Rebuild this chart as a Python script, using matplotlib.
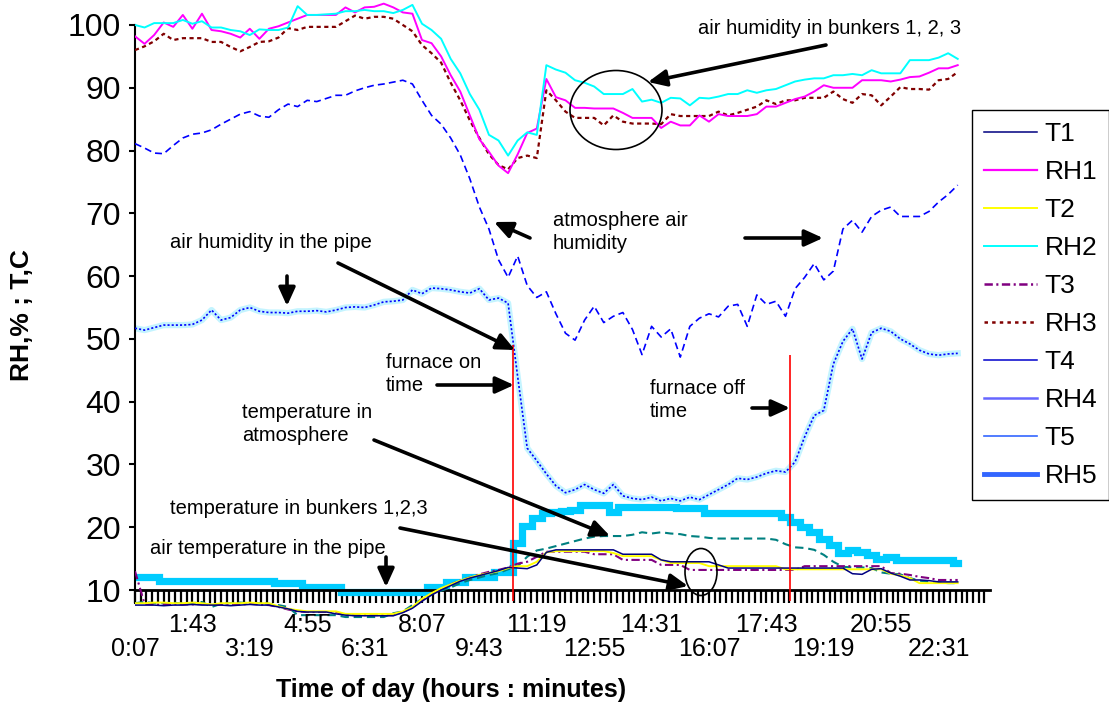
import numpy as np
import matplotlib
matplotlib.use("Agg")
import matplotlib.pyplot as plt
from matplotlib.lines import Line2D
from matplotlib.patches import Ellipse
from matplotlib import font_manager

plt.rcParams["lines.scale_dashes"] = False
installed = {f.name for f in font_manager.fontManager.ttflist}
BASE = "Liberation Sans" if "Liberation Sans" in installed else "DejaVu Sans"
NARROW = "Liberation Sans Narrow" if "Liberation Sans Narrow" in installed else BASE
plt.rcParams["font.family"] = [BASE, "DejaVu Sans"]

# ---------------- data (sample every 16 minutes starting 0:07) ----------------
minutes = 7 + 16 * np.arange(87)

rh1 = [98.2, 97.0, 98.4, 100.4, 99.7, 101.6, 99.4, 101.8, 99.2, 99.0,
       98.6, 98.0, 99.4, 97.8, 99.4, 99.8, 100.4, 101.0, 101.6, 101.6,
       101.6, 101.6, 102.8, 102.0, 102.8, 102.9, 103.4, 102.8, 102.0, 101.8,
       97.6, 97.1, 95.0, 92.0, 89.4, 85.6, 81.8, 79.8, 77.6, 76.4,
       79.4, 82.8, 83.5, 91.4, 88.5, 88.0, 86.8, 86.8, 86.7, 86.7,
       86.7, 86.0, 85.2, 85.2, 85.2, 83.6, 84.6, 84.0, 84.0, 85.6,
       84.6, 85.8, 85.5, 85.5, 85.5, 85.8, 87.0, 87.0, 87.6, 88.2,
       88.6, 89.4, 90.4, 90.0, 90.0, 90.0, 91.2, 91.2, 91.2, 91.0,
       91.3, 91.7, 91.8, 92.4, 93.1, 93.1, 93.6]
rh2 = [100.0, 99.6, 100.3, 100.3, 100.3, 100.8, 100.2, 100.6, 99.6, 99.6,
       99.2, 99.0, 98.4, 99.3, 99.2, 99.2, 99.6, 103.0, 101.6, 101.6,
       101.7, 101.8, 102.2, 102.2, 102.4, 102.2, 102.2, 101.9, 102.4, 103.2,
       100.2, 99.2, 97.8, 94.6, 92.3, 89.0, 86.5, 82.5, 81.6, 79.2,
       81.6, 82.9, 82.5, 93.6, 92.9, 92.4, 91.2, 90.8, 90.2, 89.0,
       89.0, 89.0, 89.8, 87.8, 88.1, 87.6, 88.4, 88.3, 87.2, 88.4,
       88.3, 88.6, 89.0, 89.0, 89.6, 89.2, 89.6, 89.8, 90.4, 91.0,
       91.3, 91.5, 91.5, 92.0, 92.0, 92.2, 92.0, 92.8, 92.3, 92.3,
       92.3, 94.4, 94.4, 94.4, 94.8, 95.5, 94.6]
rh3 = [96.0, 96.6, 97.4, 98.6, 97.6, 97.9, 97.9, 97.9, 97.3, 97.3,
       96.5, 95.8, 96.5, 97.3, 97.4, 98.0, 99.5, 99.2, 99.7, 99.7,
       99.7, 99.7, 100.6, 101.5, 101.0, 101.3, 101.3, 101.0, 100.0, 99.0,
       96.8, 95.5, 94.0, 90.8, 88.0, 84.8, 82.0, 79.4, 77.7, 77.0,
       78.8, 79.2, 78.8, 89.6, 88.0, 86.2, 85.2, 85.2, 85.2, 84.0,
       85.6, 84.6, 84.3, 84.3, 84.3, 84.2, 85.8, 85.5, 85.5, 85.5,
       85.5, 86.2, 85.6, 86.0, 86.5, 87.0, 88.0, 87.4, 88.0, 88.0,
       88.4, 88.4, 88.4, 89.4, 88.2, 87.6, 89.0, 88.8, 87.2, 88.6,
       90.1, 89.8, 89.8, 89.7, 91.2, 91.4, 92.5]
rh_atmosphere = [81.1, 80.4, 79.6, 79.5, 80.8, 82.0, 82.6, 82.8, 83.3, 84.2,
                 85.0, 85.8, 86.2, 85.5, 85.3, 86.5, 87.4, 87.0, 88.0, 87.8,
                 88.3, 88.8, 88.8, 89.5, 90.0, 90.4, 90.6, 90.9, 91.2, 90.6,
                 88.0, 85.6, 84.2, 82.0, 79.3, 75.5, 71.0, 67.5, 62.6, 59.8,
                 63.2, 58.5, 56.6, 57.5, 54.0, 50.9, 49.8, 53.0, 55.2, 52.6,
                 53.6, 54.2, 51.5, 47.5, 52.0, 50.3, 51.6, 47.1, 52.0, 53.3,
                 54.0, 53.5, 55.2, 55.5, 52.0, 57.0, 55.5, 56.0, 53.6, 58.0,
                 59.8, 62.0, 59.4, 60.8, 67.5, 68.9, 67.0, 69.5, 70.5, 71.0,
                 69.5, 69.5, 69.5, 70.3, 71.8, 73.0, 74.5]
rh_pipe = [51.7, 51.4, 51.8, 52.2, 52.2, 52.2, 52.3, 53.0, 54.6, 53.0,
           53.4, 54.6, 55.0, 54.4, 54.2, 54.2, 54.1, 54.4, 54.4, 54.5,
           54.3, 54.6, 55.0, 55.1, 55.0, 55.4, 55.9, 56.0, 56.2, 57.8,
           57.2, 58.1, 58.0, 57.8, 57.5, 57.3, 58.0, 56.2, 56.5, 55.7,
           44.0, 32.6, 30.6, 28.5, 26.6, 25.5, 26.0, 26.8, 26.0, 25.4,
           26.8, 25.0, 24.6, 24.4, 24.8, 24.2, 24.6, 24.2, 24.8, 24.4,
           25.2, 26.0, 26.8, 27.8, 27.6, 28.0, 28.6, 29.0, 28.8, 30.4,
           34.4, 37.8, 38.6, 46.0, 49.6, 51.6, 46.8, 51.0, 51.7, 51.2,
           50.0, 49.2, 48.2, 47.6, 47.4, 47.6, 47.7]
t_pipe = [12.1, 12.1, 12.1, 11.5, 11.5, 11.5, 11.5, 11.5, 11.5, 11.5,
          11.5, 11.5, 11.5, 11.5, 11.5, 11.1, 11.1, 11.1, 10.5, 10.5,
          10.5, 10.5, 9.7, 9.7, 9.7, 9.7, 9.7, 9.7, 9.7, 9.7,
          9.7, 10.5, 10.5, 11.3, 11.3, 12.0, 12.1, 12.1, 12.9, 12.9,
          17.5, 20.2, 21.4, 22.3, 22.4, 22.6, 22.7, 23.5, 23.5, 23.5,
          22.4, 23.2, 23.2, 23.2, 23.2, 23.2, 23.2, 23.0, 23.0, 23.0,
          22.2, 22.2, 22.2, 22.2, 22.2, 22.2, 22.2, 22.2, 21.6, 20.9,
          20.0, 19.2, 18.2, 17.2, 15.9, 16.4, 16.0, 15.6, 15.0, 15.3,
          14.8, 14.8, 14.8, 14.8, 14.8, 14.8, 14.3]
t_atmosphere = [7.9, 8.1, 7.9, 7.9, 8.0, 7.8, 7.9, 8.1, 7.3, 7.8,
                7.9, 8.0, 7.9, 7.9, 7.8, 7.6, 7.3, 6.0, 6.0, 6.0,
                6.0, 6.0, 5.7, 5.7, 5.7, 5.7, 5.7, 6.3, 6.6, 7.6,
                8.6, 9.4, 9.9, 10.4, 11.1, 11.6, 12.0, 12.4, 12.7, 13.3,
                13.8, 15.3, 16.3, 16.6, 17.0, 17.4, 17.8, 18.2, 18.5, 18.6,
                18.6, 18.6, 18.8, 19.2, 19.0, 19.2, 19.0, 18.9, 18.6, 18.5,
                18.3, 18.2, 18.2, 18.2, 18.2, 18.2, 18.2, 18.0, 17.3, 16.8,
                16.7, 16.4, 15.6, 14.5, 13.7, 13.6, 13.6, 13.5, 12.8, 12.6,
                12.5, 11.9, 11.5, 11.3, 11.2, 11.1, 11.1]
t1 = [7.6, 7.6, 7.6, 7.5, 7.6, 7.6, 7.7, 7.6, 7.6, 7.6,
      7.5, 7.6, 7.7, 7.6, 7.6, 7.3, 7.0, 6.6, 6.5, 6.5,
      6.5, 6.2, 6.0, 5.9, 5.9, 5.9, 5.9, 5.9, 6.4, 7.1,
      8.2, 9.2, 10.0, 10.7, 11.4, 11.9, 12.3, 12.7, 13.1, 13.6,
      13.5, 13.4, 14.0, 16.0, 16.4, 16.4, 16.4, 16.4, 16.4, 16.4,
      16.4, 15.7, 15.7, 15.7, 15.7, 14.8, 14.5, 14.5, 14.5, 14.5,
      14.5, 14.0, 13.5, 13.5, 13.5, 13.5, 13.5, 13.5, 13.5, 13.5,
      13.5, 13.5, 13.5, 13.5, 13.5, 12.6, 12.5, 13.3, 13.4, 12.7,
      12.2, 11.6, 11.6, 11.5, 11.3, 11.3, 11.3]
t2 = [7.9, 7.9, 8.0, 8.0, 7.9, 7.9, 8.0, 7.9, 7.7, 7.9,
      7.9, 7.9, 8.0, 7.9, 7.9, 7.4, 7.0, 6.8, 6.6, 6.6,
      6.6, 6.6, 6.2, 6.2, 6.2, 6.2, 6.2, 6.2, 6.6, 7.3,
      8.6, 9.5, 10.3, 10.9, 11.5, 12.0, 12.4, 12.7, 13.0, 13.5,
      13.8, 13.8, 14.5, 16.0, 16.2, 16.2, 16.2, 16.2, 16.2, 16.2,
      15.9, 15.4, 15.4, 15.4, 15.4, 14.8, 14.3, 14.3, 14.3, 14.3,
      13.8, 13.8, 13.8, 13.8, 13.8, 13.8, 13.8, 13.8, 13.3, 13.3,
      13.3, 13.3, 13.3, 13.3, 13.3, 13.3, 13.3, 13.3, 13.3, 12.6,
      12.3, 11.9, 11.1, 11.1, 11.1, 11.1, 11.1]
t3 = [13.0, 7.8, 7.7, 7.7, 7.8, 7.7, 7.7, 7.8, 7.7, 7.7,
      7.7, 7.7, 7.8, 7.7, 7.6, 7.3, 6.9, 6.6, 6.5, 6.5,
      6.5, 6.5, 6.0, 6.0, 6.0, 6.0, 6.0, 6.0, 6.5, 7.2,
      8.4, 9.4, 10.2, 10.9, 11.5, 12.0, 12.5, 12.9, 13.2, 13.6,
      14.2, 14.5, 15.3, 16.1, 16.1, 16.1, 16.1, 16.1, 15.7, 15.7,
      15.7, 14.8, 14.8, 14.8, 14.8, 14.0, 14.0, 14.0, 13.2, 13.2,
      13.2, 13.2, 13.2, 13.2, 13.2, 13.2, 13.2, 13.2, 13.2, 13.2,
      13.8, 13.8, 13.8, 13.8, 13.8, 13.8, 13.8, 13.8, 13.8, 12.7,
      12.6, 12.4, 12.1, 11.9, 11.6, 11.6, 11.6]

furnace_times = [639, 1102]          # minutes after midnight (on / off)
furnace_tops = [49.0, 47.4]
furnace_bottom = 8.3

tick_label_minutes = [7 + 96 * k for k in range(15)]
tick_labels = ["0:07", "1:43", "3:19", "4:55", "6:31", "8:07", "9:43", "11:19",
               "12:55", "14:31", "16:07", "17:43", "19:19", "20:55", "22:31"]
legend_labels = ["T1", "RH1", "T2", "RH2", "T3", "RH3", "T4", "RH4", "T5", "RH5"]

for s in (rh1, rh2, rh3, rh_atmosphere, rh_pipe, t_pipe, t_atmosphere, t1, t2, t3):
    assert len(s) == len(minutes)

# ---------------- figure ----------------
W, H = 1109, 704
fig = plt.figure(figsize=(W / 100, H / 100), dpi=100)
ax = fig.add_axes([135 / W, 79 / H, 855 / W, 625 / H])
ax.set_xlim(7, 1437)
ax.set_ylim(4.43, 103.98)

# lines
ax.plot(minutes, t_pipe, color="#00CCFF", lw=5.2, drawstyle="steps-mid",
        solid_joinstyle="miter", zorder=2)
ax.plot(minutes, t_atmosphere, color="#008080", lw=1.5, dashes=(6, 3.5), zorder=3)
ax.plot(minutes, t3, color="#800080", lw=1.5, dashes=(6, 2.5, 1.5, 2.5), zorder=3)
ax.plot(minutes, t2, color="#FFFF00", lw=1.4, zorder=3)
ax.plot(minutes, t1, color="#000080", lw=1.1, zorder=3)
ax.plot(minutes, rh_pipe, color="#C4F4FF", lw=4.5, zorder=2)
ax.plot(minutes, rh_pipe, color="#0000FF", lw=1.2, dashes=(1.5, 1.5), zorder=3)
ax.plot(minutes, rh_atmosphere, color="#0000FF", lw=1.2, dashes=(5, 3), zorder=3)
ax.plot(minutes, rh3, color="#800000", lw=1.6, dashes=(3, 2.5), zorder=3)
ax.plot(minutes, rh1, color="#FF00FF", lw=1.4, zorder=3)
ax.plot(minutes, rh2, color="#00FFFF", lw=1.4, zorder=3)
ax.vlines(furnace_times, furnace_bottom, furnace_tops, color="#FF0000", lw=1.2, zorder=4)

# axes styling
for s in ("top", "right"):
    ax.spines[s].set_visible(False)
ax.spines["bottom"].set_position(("data", 10))
ax.spines["bottom"].set_linewidth(2.0)
ax.spines["left"].set_linewidth(1.5)
ax.spines["left"].set_bounds(7.9, 100)

ax.set_yticks(np.arange(10, 101, 10))
ax.tick_params(axis="y", direction="out", length=4, width=1.5, labelsize=23, pad=6)
ax.set_xticks(np.arange(7, 1431, 9.6))
ax.tick_params(axis="x", direction="out", length=9, width=1.6, labelbottom=False)

for k, (m, lab) in enumerate(zip(tick_label_minutes, tick_labels)):
    yv = 0.6 if k % 2 == 0 else 4.42
    ax.text(m, yv, lab, ha="center", va="center", fontsize=18,
            family=[NARROW, "DejaVu Sans"], clip_on=False)

fig.text(451 / W, 1 - 690 / H, "Time of day (hours : minutes)", ha="center",
         va="center", fontsize=18, fontweight="bold")
fig.text(22 / W, 1 - 315 / H, "RH,% ; T,C", ha="center", va="center",
         rotation=90, fontsize=19, fontweight="bold")

# legend (styles as in the reference legend)
handles = [
    Line2D([], [], color="#000080", lw=1.1),
    Line2D([], [], color="#FF00FF", lw=1.6),
    Line2D([], [], color="#FFFF00", lw=1.4),
    Line2D([], [], color="#00FFFF", lw=1.4),
    Line2D([], [], color="#800080", lw=1.8, dashes=(6, 2.5, 1.5, 2.5)),
    Line2D([], [], color="#800000", lw=1.8, dashes=(2.5, 3)),
    Line2D([], [], color="#0000CC", lw=1.1),
    Line2D([], [], color="#6666FF", lw=1.8),
    Line2D([], [], color="#3366FF", lw=1.2),
    Line2D([], [], color="#3366FF", lw=3.5),
]
leg = fig.legend(handles, legend_labels, loc="upper left",
                 bbox_to_anchor=(972 / W, 1 - 110 / H), fontsize=19,
                 frameon=True, fancybox=False, edgecolor="black", framealpha=1,
                 handlelength=2.0, handletextpad=0.3, labelspacing=0.53,
                 borderpad=0.45, borderaxespad=0)
leg.get_frame().set_linewidth(1.0)

# annotations in reference pixel coordinates
tr = fig.dpi_scale_trans


def P(x, y):
    return (x / 100, (H - y) / 100)


texts = [
    ("air humidity in bunkers 1, 2, 3", 698, 28),
    ("air humidity in the pipe", 170, 243),
    ("atmosphere air\nhumidity", 553, 232),
    ("furnace on\ntime", 386, 374),
    ("furnace off\ntime", 650, 400),
    ("temperature in\natmosphere", 242, 424),
    ("temperature in bunkers 1,2,3", 170, 508),
    ("air temperature in the pipe", 150, 548),
]
for s, x, y in texts:
    fig.text(*P(x, y), s, transform=tr, ha="left", va="center", fontsize=14.5,
             linespacing=1.25)

arrows = [
    ((826, 45), (648, 82)),
    ((287, 276), (287, 306)),
    ((338, 263), (515, 350)),
    ((530, 238), (494, 222)),
    ((745, 238), (823, 238)),
    ((437, 385), (514, 385)),
    ((752, 408), (790, 408)),
    ((374, 440), (610, 536)),
    ((400, 528), (688, 586)),
    ((386, 557), (386, 587)),
]
for (x0, y0), (x1, y1) in arrows:
    ax.annotate("", xy=P(x1, y1), xycoords=tr, xytext=P(x0, y0), textcoords=tr,
                arrowprops=dict(arrowstyle="-|>,head_length=0.55,head_width=0.25",
                                lw=2.6, color="black", shrinkA=0, shrinkB=0,
                                mutation_scale=20),
                annotation_clip=False, zorder=6)

for cx, cy, w, h in [(616, 110, 92, 79), (701, 572, 32, 47)]:
    fig.add_artist(Ellipse(P(cx, cy), w / 100, h / 100, transform=tr,
                           fill=False, edgecolor="black", lw=1.2, zorder=6))

fig.savefig("out.png", dpi=100)
